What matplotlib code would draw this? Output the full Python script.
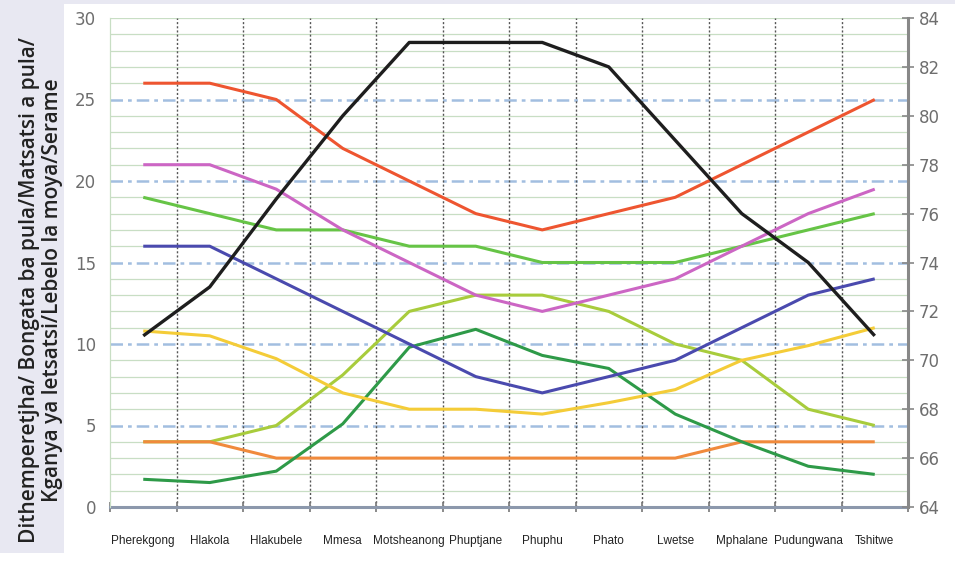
import numpy as np
import matplotlib.pyplot as plt
from matplotlib.patches import Rectangle

months = ["Pherekgong", "Hlakola", "Hlakubele", "Mmesa", "Motsheanong", "Phuptjane",
          "Phuphu", "Phato", "Lwetse", "Mphalane", "Pudungwana", "Tshitwe"]

red = [26, 26, 25, 22, 20, 18, 17, 18, 19, 21, 23, 25]
magenta = [21, 21, 19.5, 17, 15, 13, 12, 13, 14, 16, 18, 19.5]
green = [19, 18, 17, 17, 16, 16, 15, 15, 15, 16, 17, 18]
blue = [16, 16, 14, 12, 10, 8, 7, 8, 9, 11, 13, 14]
yellow = [10.8, 10.5, 9.1, 7, 6, 6, 5.7, 6.4, 7.2, 9, 9.9, 11]
lightgreen = [4, 4, 5, 8.1, 12, 13, 13, 12, 10, 9, 6, 5]
darkgreen = [1.7, 1.5, 2.2, 5.1, 9.8, 10.9, 9.3, 8.5, 5.7, 4, 2.5, 2]
orange = [4, 4, 3, 3, 3, 3, 3, 3, 3, 4, 4, 4]
black_right = [71, 73, 76.6, 80, 83, 83, 83, 82, 79, 76, 74, 71]

left_series = [
    (lightgreen, "#A8CC3C"),
    (orange, "#F08A3C"),
    (darkgreen, "#2E9A48"),
    (yellow, "#F4CC38"),
    (blue, "#4A4AAE"),
    (green, "#66C446"),
    (magenta, "#CC66C4"),
    (red, "#EE5530"),
]

fig = plt.figure(figsize=(9.55, 5.82), dpi=100)
fig.patch.set_facecolor("#E8E8F2")
fig.patches.append(Rectangle((64 / 955, 0), 1, 1 - 4 / 582, transform=fig.transFigure,
                             facecolor="white", edgecolor="none", zorder=-10))
fig.patches.append(Rectangle((0, 0), 64 / 955, 1 - 553 / 582, transform=fig.transFigure,
                             facecolor="white", edgecolor="none", zorder=-10))

ax = fig.add_axes([110 / 955, 1 - 507 / 582, 798 / 955, 489 / 582])
ax.set_facecolor("white")
x = np.arange(len(months))
ax.set_xlim(-0.5, len(months) - 0.5)
ax.set_ylim(0, 30)

# grid
for v in range(1, 30):
    if v % 5 == 0:
        ax.axhline(v, color="#A2BEE0", lw=1.8, ls=(0, (5, 2, 1.5, 2)), zorder=1)
    else:
        ax.axhline(v, color="#C8DEC4", lw=0.9, zorder=1)
ax.axhline(30, color="#C8DEC4", lw=0.9, zorder=1)
for b in np.arange(0.5, len(months) - 1, 1):
    ax.axvline(b, color="#555555", lw=1.0, ls=(0, (1.5, 1.5)), zorder=1)

for data, col in left_series:
    ax.plot(x, data, color=col, lw=2.2, zorder=3, solid_capstyle="butt")

ax2 = ax.twinx()
ax2.set_ylim(64, 84)
ax2.plot(x, black_right, color="#1E1E1E", lw=2.4, zorder=4, solid_capstyle="butt")
ax2.set_yticks(np.arange(64, 85, 2))
ax2.tick_params(axis="y", direction="inout", length=8, width=1.2, color="#888888",
                labelsize=12, labelcolor="#6E6E6E", pad=4)

for a in (ax, ax2):
    a.spines["top"].set_visible(False)
    a.spines["left"].set_color("#C8DEC4")
    a.spines["right"].set_visible(False)
    a.spines["bottom"].set_visible(False)
ax2.spines["right"].set_visible(True)
ax2.spines["right"].set_color("#888888")
ax2.spines["right"].set_linewidth(2.2)
ax.spines["bottom"].set_visible(True)
ax.spines["bottom"].set_color("#8C98AC")
ax.spines["bottom"].set_linewidth(2.2)

ax.set_yticks(np.arange(0, 31, 5))
ax.tick_params(axis="y", length=0, labelsize=12, labelcolor="#6E6E6E", pad=10)
ax.set_xticks(x)
ax.set_xticklabels(months, fontsize=8.5, color="#222222",
                   family=["Liberation Sans Narrow", "Liberation Sans", "DejaVu Sans"])
ax.tick_params(axis="x", length=0, pad=20)
ax.set_xticks(np.arange(-0.5, len(months), 1), minor=True)
ax.tick_params(axis="x", which="minor", direction="inout", length=7, width=1.2, color="#777777")

fig.text(41 / 955, 1 - 290 / 582,
         "Dithemperetjha/ Bongata ba pula/Matsatsi a pula/\nKganya ya letsatsi/Lebelo la moya/Serame",
         rotation=90, ha="center", va="center", fontsize=15, fontweight="semibold",
         color="#222222", family=["Open Sans", "DejaVu Sans"], linespacing=1.1)

fig.savefig("out.png", dpi=100)
